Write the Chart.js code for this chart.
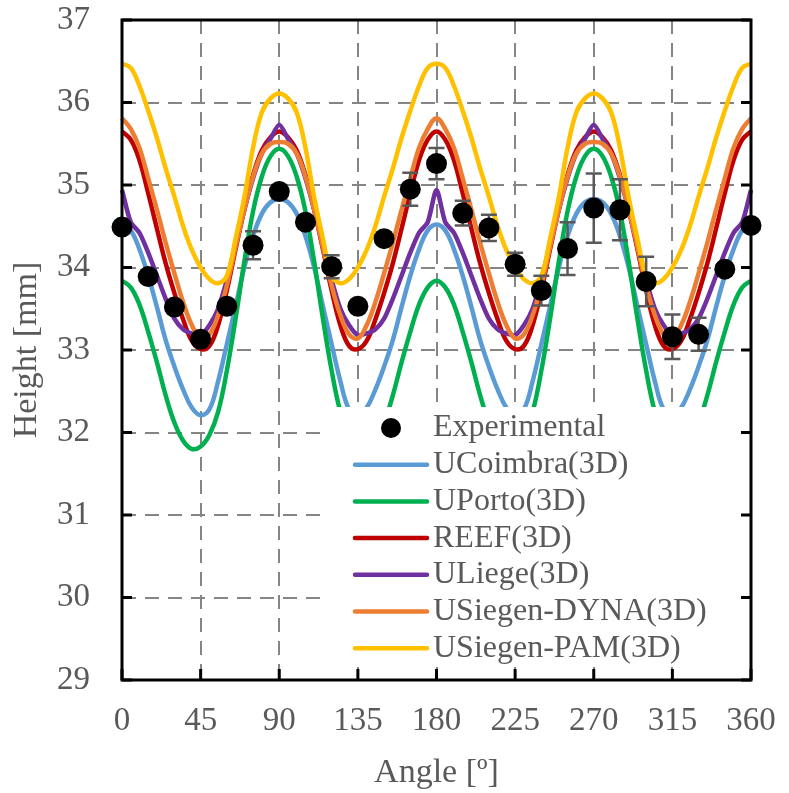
<!DOCTYPE html>
<html>
<head>
<meta charset="utf-8">
<script src="https://cdn.jsdelivr.net/npm/chart.js@4"></script>
<style>
  html,body{margin:0;padding:0;background:#fff;}
  #wrap{width:789px;height:793px;}
</style>
</head>
<body>
<div id="wrap"><canvas id="chart" width="789" height="793"></canvas></div>
<script>
// wave height around the structure, measured vs. numerical models
const FONT = '"Liberation Serif", "Times New Roman", serif';
const TEXT = '#595959';

// measurements every 15 degrees
const expAngles = [0,15,30,45,60,75,90,105,120,135,150,165,180,195,210,225,240,255,270,285,300,315,330,345,360];
const expHeight = [34.49,33.89,33.52,33.13,33.53,34.27,34.92,34.55,34.01,33.53,34.35,34.95,35.26,34.66,34.48,34.04,33.72,34.23,34.72,34.70,33.83,33.16,33.19,33.98,34.51];
const expError  = [0.05,0.05,0.05,0.05,0.05,0.17,0.08,0.05,0.14,0.05,0.05,0.20,0.19,0.15,0.16,0.14,0.18,0.32,0.42,0.37,0.30,0.27,0.20,0.05,0.05];

// model curves, every 5 degrees
const modelAngles = [0,5,10,15,20,25,30,35,40,45,50,55,60,65,70,75,80,85,90,95,100,105,110,115,120,125,130,135,140,145,150,155,160,165,170,175,180,
  185,190,195,200,205,210,215,220,225,230,235,240,245,250,255,260,265,270,275,280,285,290,295,300,305,310,315,320,325,330,335,340,345,350,355,360];

const uCoimbra = [34.52,34.45,34.22,33.90,33.52,33.12,32.80,32.52,32.30,32.21,32.28,32.62,33.07,33.53,34.00,34.38,34.65,34.79,34.83,
  34.79,34.65,34.38,34.00,33.53,33.07,32.62,32.28,32.21,32.30,32.52,32.80,33.12,33.52,33.90,34.22,34.45,34.52,
  34.45,34.22,33.90,33.52,33.12,32.80,32.52,32.30,32.21,32.28,32.62,33.07,33.53,34.00,34.38,34.65,34.79,34.83,
  34.79,34.65,34.38,34.00,33.53,33.07,32.62,32.28,32.21,32.30,32.52,32.80,33.12,33.52,33.90,34.22,34.45,34.52];

const uPorto = [33.84,33.76,33.55,33.22,32.85,32.45,32.12,31.90,31.80,31.83,31.97,32.25,32.75,33.38,34.07,34.68,35.10,35.35,35.44,
  35.35,35.10,34.68,34.07,33.38,32.75,32.25,31.97,31.83,31.80,31.90,32.12,32.45,32.85,33.22,33.55,33.76,33.84,
  33.76,33.55,33.22,32.85,32.45,32.12,31.90,31.80,31.83,31.97,32.25,32.75,33.38,34.07,34.68,35.10,35.35,35.44,
  35.35,35.10,34.68,34.07,33.38,32.75,32.25,31.97,31.83,31.80,31.90,32.12,32.45,32.85,33.22,33.55,33.76,33.84];

const reef = [35.65,35.55,35.30,34.90,34.47,34.05,33.69,33.37,33.11,33.01,33.05,33.30,33.72,34.22,34.70,35.12,35.42,35.58,35.65,
  35.58,35.42,35.12,34.70,34.22,33.72,33.30,33.05,33.01,33.11,33.37,33.69,34.05,34.47,34.90,35.30,35.55,35.65,
  35.55,35.30,34.90,34.47,34.05,33.69,33.37,33.11,33.01,33.05,33.30,33.72,34.22,34.70,35.12,35.42,35.58,35.65,
  35.58,35.42,35.12,34.70,34.22,33.72,33.30,33.05,33.01,33.11,33.37,33.69,34.05,34.47,34.90,35.30,35.55,35.65];

const uLiege = [34.94,34.55,34.42,34.18,33.90,33.62,33.38,33.25,33.20,33.18,33.30,33.50,33.85,34.28,34.70,35.08,35.38,35.56,35.73,
  35.56,35.38,35.08,34.70,34.28,33.85,33.50,33.30,33.18,33.20,33.25,33.38,33.62,33.90,34.18,34.42,34.55,34.94,
  34.55,34.42,34.18,33.90,33.62,33.38,33.25,33.20,33.18,33.30,33.50,33.85,34.28,34.70,35.08,35.38,35.56,35.73,
  35.56,35.38,35.08,34.70,34.28,33.85,33.50,33.30,33.18,33.20,33.25,33.38,33.62,33.90,34.18,34.42,34.55,34.94];

const siegenDyna = [35.81,35.68,35.45,35.08,34.70,34.30,33.93,33.58,33.30,33.14,33.19,33.42,33.78,34.25,34.70,35.10,35.38,35.50,35.52,
  35.50,35.38,35.10,34.70,34.25,33.78,33.42,33.19,33.14,33.30,33.58,33.93,34.30,34.70,35.08,35.45,35.68,35.81,
  35.68,35.45,35.08,34.70,34.30,33.93,33.58,33.30,33.14,33.19,33.42,33.78,34.25,34.70,35.10,35.38,35.50,35.52,
  35.50,35.38,35.10,34.70,34.25,33.78,33.42,33.19,33.14,33.30,33.58,33.93,34.30,34.70,35.08,35.45,35.68,35.81];

const siegenPam = [36.47,36.42,36.20,35.90,35.57,35.20,34.86,34.50,34.21,34.00,33.86,33.81,33.90,34.35,34.85,35.45,35.88,36.05,36.11,
  36.05,35.88,35.45,34.85,34.35,33.90,33.81,33.86,34.00,34.21,34.50,34.86,35.20,35.57,35.90,36.20,36.42,36.47,
  36.42,36.20,35.90,35.57,35.20,34.86,34.50,34.21,34.00,33.86,33.81,33.90,34.35,34.85,35.45,35.88,36.05,36.11,
  36.05,35.88,35.45,34.85,34.35,33.90,33.81,33.86,34.00,34.21,34.50,34.86,35.20,35.57,35.90,36.20,36.42,36.47];

const toPts = (xs, ys) => xs.map((x,i)=>({x, y:ys[i]}));

function model(label, values, color, order, tension){
  return {
    label, data: toPts(modelAngles, values), borderColor: color, backgroundColor: color,
    borderWidth: 4.5, pointRadius: 0, tension: tension ?? 0.4, order, clip: 4
  };
}

// error bars under the black markers
const errorBars = {
  id: 'errorBars',
  beforeDatasetDraw(chart, args){
    if(args.index !== 0) return;
    const {ctx, scales:{x, y}} = chart;
    ctx.save();
    ctx.strokeStyle = '#595959'; ctx.lineWidth = 2.5;
    expAngles.forEach((a,i)=>{
      const px = x.getPixelForValue(a);
      const top = y.getPixelForValue(expHeight[i] + expError[i]);
      const bot = y.getPixelForValue(expHeight[i] - expError[i]);
      ctx.beginPath();
      ctx.moveTo(px, top); ctx.lineTo(px, bot);
      ctx.moveTo(px-8, top); ctx.lineTo(px+8, top);
      ctx.moveTo(px-8, bot); ctx.lineTo(px+8, bot);
      ctx.stroke();
    });
    ctx.restore();
  }
};

// legend in a white box sitting on the lower right of the plot
const boxLegend = {
  id: 'boxLegend',
  afterDatasetsDraw(chart){
    const {ctx, chartArea:a} = chart;
    const left = a.left + 200, top = a.top + 387, right = a.right - 7, bottom = a.bottom - 13;
    ctx.save();
    ctx.fillStyle = '#fff';
    ctx.fillRect(left, top, right-left, bottom-top);
    ctx.font = '32px ' + FONT;
    ctx.textBaseline = 'middle';
    chart.data.datasets.forEach((ds,i)=>{
      const cy = top + 21 + i*36.7;
      if(ds.showLine === false){
        ctx.fillStyle = '#000';
        ctx.beginPath(); ctx.arc(left+69, cy, 10, 0, Math.PI*2); ctx.fill();
      } else {
        ctx.strokeStyle = ds.borderColor; ctx.lineWidth = 4.5; ctx.lineCap = 'round';
        ctx.beginPath(); ctx.moveTo(left+33, cy); ctx.lineTo(left+105, cy); ctx.stroke();
      }
      ctx.fillStyle = TEXT;
      ctx.fillText(ds.label, left+111, cy);
    });
    ctx.restore();
  }
};

// black frame with inward tick marks
const frame = {
  id: 'frame',
  afterDraw(chart){
    const {ctx, chartArea:a, scales:{x, y}} = chart;
    ctx.save();
    ctx.strokeStyle = '#000'; ctx.lineWidth = 3;
    ctx.beginPath();
    y.ticks.forEach(t=>{
      const py = y.getPixelForValue(t.value);
      ctx.moveTo(a.left, py); ctx.lineTo(a.left+10, py);
      ctx.moveTo(a.right, py); ctx.lineTo(a.right-10, py);
    });
    x.ticks.forEach(t=>{
      const px = x.getPixelForValue(t.value);
      ctx.moveTo(px, a.bottom); ctx.lineTo(px, a.bottom-11);
    });
    ctx.stroke();
    ctx.strokeRect(a.left, a.top, a.right-a.left, a.bottom-a.top);
    ctx.restore();
  }
};

new Chart(document.getElementById('chart'), {
  type: 'line',
  data: {
    datasets: [
      { label: 'Experimental', data: toPts(expAngles, expHeight), showLine: false,
        pointRadius: 10.5, pointBackgroundColor: '#000', pointBorderWidth: 0, borderColor: '#000', order: 0, clip: 14 },
      model('UCoimbra(3D)', uCoimbra, '#5B9BD5', 6),
      model('UPorto(3D)', uPorto, '#00B050', 5),
      model('REEF(3D)', reef, '#C00000', 4),
      model('ULiege(3D)', uLiege, '#7030A0', 3, 0.25),
      model('USiegen-DYNA(3D)', siegenDyna, '#ED7D31', 2),
      model('USiegen-PAM(3D)', siegenPam, '#FFC000', 1)
    ]
  },
  options: {
    responsive: false,
    animation: false,
    layout: { padding: { top: 20, right: 38, left: 0, bottom: 0 } },
    plugins: { legend: { display: false }, tooltip: { enabled: false } },
    scales: {
      x: {
        type: 'linear', min: 0, max: 360,
        ticks: { stepSize: 45, color: TEXT, font: { family: FONT, size: 33 }, padding: 22, maxRotation: 0 },
        grid: { color: '#858585', lineWidth: 2, drawTicks: false },
        border: { display: false, dash: [14, 9] },
        title: { display: true, text: 'Angle [º]', color: TEXT, font: { family: FONT, size: 34 }, padding: { top: 0, bottom: 0 } },
        afterFit(s){ s.height = 113; s.paddingLeft = 0; s.paddingRight = 0; }
      },
      y: {
        min: 29, max: 37,
        ticks: { stepSize: 1, color: TEXT, font: { family: FONT, size: 33 }, padding: 32 },
        grid: { color: '#858585', lineWidth: 2, drawTicks: false },
        border: { display: false, dash: [14, 9] },
        title: { display: true, text: 'Height [mm]', color: TEXT, font: { family: FONT, size: 34 }, padding: { top: 7, bottom: 0 } },
        afterFit(s){ s.width = 122; s.paddingTop = 0; s.paddingBottom = 0; }
      }
    }
  },
  plugins: [errorBars, boxLegend, frame]
});
</script>
</body>
</html>
